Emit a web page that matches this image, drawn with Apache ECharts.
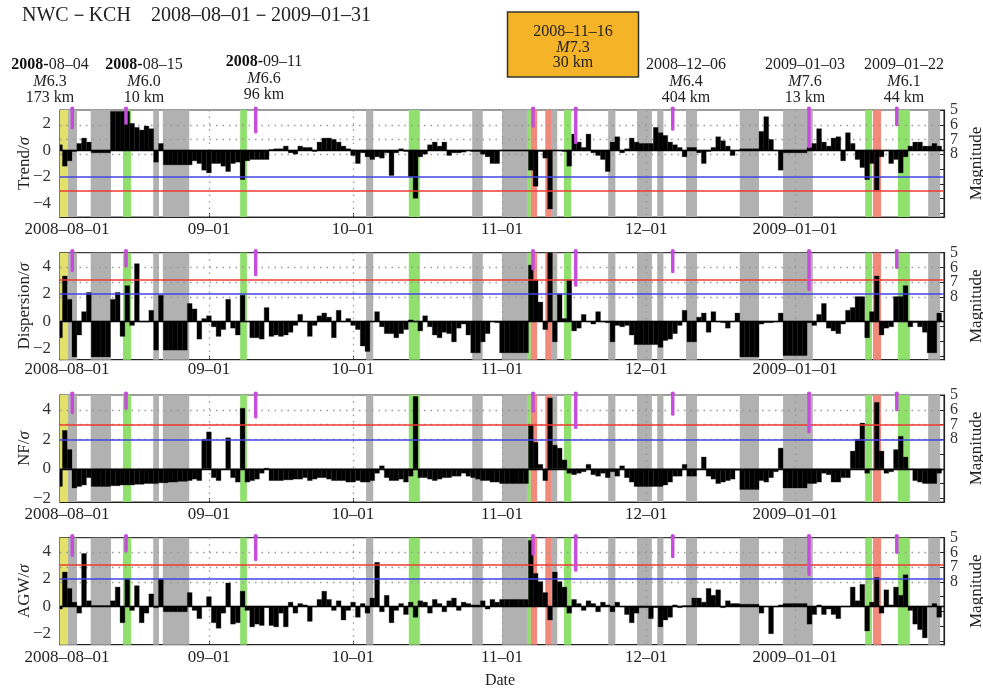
<!DOCTYPE html>
<html><head><meta charset="utf-8">
<script src="https://cdn.jsdelivr.net/npm/echarts@6/dist/echarts.min.js"></script>
<style>html,body{margin:0;padding:0;background:#fff}#c{width:983px;height:691px}</style>
</head><body><div id="c"></div>
<script>
// ---------------- DATA ----------------
const monthTickDays = [0, 31, 61, 92, 122, 153];
const monthTickLabels = ['2008–08–01', '09–01', '10–01', '11–01', '12–01', '2009–01–01'];
const panelNames = ['Trend', 'Dispersion', 'NF', 'AGW'];
const leftTicks = [[-4, -2, 0, 2], [-2, 0, 2, 4], [-2, 0, 2, 4], [-2, 0, 2, 4]];
const magLabels = [5, 6, 7, 8];
const magTicks = [5, 6, 7, 8, 9, 10, 11, 12];
const redLevel = [-3, 3, 3, 3];
const blueLevel = [-2, 2, 2, 2];

const trend = [0.4,-1.2,-0.8,-0.1,0.5,0.9,0.6,-0.2,-0.2,-0.2,-0.2,2.9,2.9,2.9,2.9,2.0,1.7,1.5,1.8,1.6,
-0.9,0.5,-1.1,-1.1,-1.1,-1.1,-1.1,-1.1,-0.8,-1.0,-1.5,-1.7,-1.0,-1.0,-1.2,-1.6,-1.0,-0.9,-2.2,-0.8,
-0.7,-0.7,-0.7,-0.7,0.05,0.1,0.1,0.3,-0.2,-0.3,0.3,0.2,0.2,-0.1,0.6,0.9,0.9,0.8,0.6,0.3,
0.1,-0.4,-1.0,-0.2,-0.5,-0.7,-0.5,-0.6,-0.2,-1.9,-0.2,0.1,-0.1,-2.0,-3.6,-0.5,-0.3,0.4,0.6,0.3,
0.6,-0.4,-0.2,-0.2,-0.15,0.0,-0.1,-0.1,-0.3,-0.5,-1.0,-1.0,-0.05,-0.05,-0.05,-0.05,-0.05,-0.05,-1.5,-2.7,
-0.1,-0.6,-4.4,0.0,0.0,-0.1,-1.2,1.2,0.6,0.2,1.2,-0.2,-0.4,-0.7,-1.6,0.6,1.0,-0.2,0.1,0.9,
0.6,0.5,0.5,0.5,1.7,1.3,1.1,0.6,0.4,0.2,-0.5,0.2,0.2,-0.2,-1.0,-0.1,0.2,1.0,0.7,0.3,
-0.4,0.0,0.1,0.1,0.1,0.1,1.4,2.5,0.8,0.0,-1.5,-0.2,-0.2,-0.2,-0.2,-0.2,0.2,0.5,1.6,0.6,
0.3,0.9,1.0,-0.8,1.3,0.5,-0.7,-1.3,-2.2,-1.0,-3.0,-0.5,0.0,-1.0,-0.7,-1.7,-0.5,0.3,0.6,0.6,
0.3,0.3,0.5,0.3];
const dispersion = [-1.2,3.3,1.6,-2.6,-1.0,0.7,2.1,-2.6,-2.6,-2.6,-2.6,1.6,2.1,-1.1,2.6,-0.3,4.2,0.0,0.0,0.8,
-2.1,1.9,-2.1,-2.1,-2.1,-2.1,-2.1,1.3,0.9,-1.3,0.2,0.4,-0.4,-1.1,-0.6,1.6,-0.5,-1.0,1.9,0.0,
-1.2,-1.2,-1.3,1.0,-1.1,-1.0,-1.1,-1.0,-0.8,-0.3,0.5,0.0,-1.1,-0.3,0.4,0.6,0.3,-1.2,0.8,0.0,
0.2,-0.3,-0.6,-1.8,-2.2,0.0,0.7,-0.4,-0.9,-0.9,-1.2,-0.9,-0.6,0.1,0.0,-0.7,0.4,-0.4,-1.0,-1.2,
-0.8,-0.9,-1.5,-0.5,-0.2,-1.0,-2.3,-2.3,-1.5,-0.9,0.0,-0.1,-2.3,-2.3,-2.3,-2.3,-2.3,-2.3,4.1,3.0,
1.4,-0.6,5.0,-1.5,2.0,0.2,3.0,-0.7,-0.5,0.5,0.0,-0.2,0.7,0.0,-0.1,-1.5,-0.3,-0.4,-0.3,-1.0,
-1.7,-1.7,-1.7,-1.7,-1.7,-1.9,-1.4,-1.3,-0.9,-0.3,0.8,-1.5,-1.5,0.3,0.6,-0.8,0.7,0.0,-0.1,-0.5,
0.0,0.6,-2.6,-2.6,-2.6,-2.6,-0.2,-0.1,-0.1,0.0,0.6,-2.5,-2.5,-2.5,-2.5,-2.5,-0.1,-0.3,0.5,1.3,
-0.5,-0.7,-0.9,-0.2,0.8,1.0,1.8,1.8,-1.2,0.7,3.3,-1.0,-0.5,-0.4,1.8,1.8,2.6,-0.4,-0.1,-0.4,
-0.8,-2.3,-2.3,0.6];
const nf = [-1.2,2.6,1.3,-1.3,-1.2,-1.1,-0.6,-1.2,-1.2,-1.2,-1.2,-1.15,-1.15,-1.1,-1.1,-1.1,-1.05,-1.05,-1.0,-1.0,
-1.0,-0.95,-0.95,-0.9,-0.9,-0.85,-0.85,-0.8,-0.7,-0.8,2.0,2.5,-0.6,-0.8,0.0,2.1,-0.6,-0.9,4.1,-0.9,
-0.8,-0.7,-0.3,0.05,-0.8,-0.8,-0.8,-0.75,-0.75,-0.7,-0.7,-0.6,-0.8,-0.7,-0.6,-0.6,-0.7,-0.8,-0.8,-0.8,
-0.9,-0.9,-0.8,-0.9,-0.9,-0.8,-0.3,0.2,-0.6,-0.8,-0.8,-0.7,-0.9,-0.5,4.9,-0.6,-0.6,-0.7,-0.8,-0.7,
-0.6,-0.6,-0.5,-0.5,-0.3,-0.5,-0.6,-0.7,-0.8,-0.8,-0.9,-0.9,-1.0,-1.0,-1.0,-1.0,-1.0,-1.0,3.0,1.8,
0.3,-0.8,4.8,1.6,1.4,0.6,-0.3,-0.4,-0.3,-0.2,0.3,-0.4,-0.5,-0.3,-0.6,-0.2,-0.5,0.2,-0.6,-0.9,
-1.2,-1.2,-1.2,-1.2,-1.2,-1.2,-1.1,-0.9,-0.5,-0.5,0.3,-0.5,-0.5,0.0,0.8,-0.5,-0.7,-1.0,-0.9,-0.8,
-0.7,-0.1,-1.4,-1.4,-1.4,-1.4,-0.8,-0.9,-0.6,-0.2,1.4,-1.3,-1.3,-1.3,-1.3,-1.3,-1.0,-1.0,-0.9,-0.3,
-0.4,-0.9,-0.9,-0.6,-0.6,1.2,2.0,3.1,-0.3,0.0,4.5,1.2,-0.3,-0.2,1.3,2.2,0.8,0.0,-0.8,-0.9,
-1.0,-1.0,-1.0,-0.3];
const agw = [-0.2,2.5,1.3,0.3,-0.5,3.85,0.4,0.05,0.05,0.05,0.05,0.4,1.4,-1.2,2.0,-0.3,1.5,-1.2,-0.5,0.9,
-0.1,2.0,-0.4,-0.4,-0.4,-0.4,-0.4,1.0,-0.3,-0.9,0.0,0.7,-1.2,-1.6,-0.5,1.7,-1.3,-1.2,1.1,-0.3,
-1.5,-1.3,-1.4,-0.1,-1.4,-1.5,-0.5,-1.5,0.3,-0.5,0.2,0.1,-1.1,0.0,0.5,1.1,0.5,-0.3,0.4,-1.0,
-0.3,0.3,-0.8,0.2,-0.5,0.6,3.2,-0.4,0.8,-1.2,-0.3,0.2,-0.6,0.3,-0.8,0.4,0.3,-0.5,0.5,0.2,
-0.4,0.4,0.6,-0.3,0.3,0.2,0.1,0.1,0.4,-0.2,0.5,0.3,0.5,0.5,0.5,0.5,0.5,0.5,4.8,2.4,
1.8,1.0,-1.0,2.5,1.8,1.4,-0.5,0.5,0.2,-0.3,0.4,0.2,-0.4,0.3,0.1,-0.4,0.3,0.0,-0.6,-1.2,
-0.5,-0.1,-0.1,-0.9,-0.1,-1.5,-1.0,-0.8,0.1,-0.1,0.05,0.05,0.6,0.6,0.3,1.3,0.8,1.2,-0.1,0.4,
0.2,0.2,0.15,0.15,0.15,0.15,-0.5,0.0,-2.0,0.0,0.1,0.2,0.2,0.2,0.2,0.2,-1.3,-0.6,0.1,-0.6,
-0.2,-0.6,-0.9,0.0,0.0,1.4,0.4,1.6,-1.8,0.3,2.1,-0.5,1.2,0.1,1.4,0.8,2.3,-0.3,-1.3,-1.7,
-2.3,0.0,0.2,-0.8];
const panelValues = [trend, dispersion, nf, agw];

// shaded bands [startDay, endDay]
const bandsGray = [[1.67,3.54],[6.39,10.62],[19.4,20.6],[21.4,26.9],[63.7,65.2],[85.8,88.0],[92.0,97.2],
  [102.2,103.5],[114.1,115.6],[120.1,123.2],[124.3,125.6],[130.3,132.6],[141.5,145.5],[150.5,156.7],[180.7,183.2]];
const bandsGreen = [[13.1,14.8],[37.5,38.9],[72.6,74.9],[97.2,98.0],[104.9,106.4],[167.6,169.0],[174.4,176.9]];
const bandsRed = [[98.0,99.3],[101.0,102.2],[169.2,170.9]];
const bandsYellow = [[0,1.67]];

const eqDay = [2.56, 13.74, 40.74, 98.46, 107.35, 127.54, 155.91, 174.17];
const eqMag = [6.3, 6.0, 6.6, 6.2, 7.3, 6.4, 7.6, 6.1];
const annDate = ['2008-08-04', '2008-08-15', '2008-09-11', '2008-12-06', '2009-01-03', '2009-01-22'];
const annMag = ['6.3', '6.0', '6.6', '6.4', '7.6', '6.1'];
const annDist = ['173 km', '10 km', '96 km', '404 km', '13 km', '44 km'];
const mainDate = '2008-11-16', mainMag = '7.3', mainDist = '30 km';

// ---------------- LAYOUT ----------------
const FONT = '"Liberation Serif","Times New Roman","Noto Serif",serif';
const gridTops = [110, 252.7, 395, 537.7];
const gridH = 107;
const yRange = [[-5, 3], [-2.8, 5], [-2.25, 5], [-2.8, 5]];
const magRange = [5, 12.25];
const X_MAX = 184;
const annX = [50, 144, 264, 686, 805, 904];
const annY = [65, 65, 62, 65, 65, 65];
const COLORS = {gray: '#b1b1b1', green: '#8fe06c', red: '#f2897b', yellow: '#e3e16c', mag: '#c64ddb'};

const dash = s => s.replace(/-/g, '–');

const grids = [], xAxes = [], yAxes = [], series = [];
const bandData = [];
bandsGray.forEach(b => bandData.push([b[0], b[1], 0]));
bandsYellow.forEach(b => bandData.push([b[0], b[1], 3]));
bandsGreen.forEach(b => bandData.push([b[0], b[1], 1]));
bandsRed.forEach(b => bandData.push([b[0], b[1], 2]));
const bandColor = [COLORS.gray, COLORS.green, COLORS.red, COLORS.yellow];

function clipTo(rect, cs) {
  return echarts.graphic.clipRectByRect(rect, {x: cs.x, y: cs.y, width: cs.width, height: cs.height});
}
function bandRender(params, api) {
  const cs = params.coordSys;
  const x0 = api.coord([api.value(0), 5])[0];
  const x1 = api.coord([api.value(1), 5])[0];
  const r = clipTo({x: x0, y: cs.y, width: x1 - x0, height: cs.height}, cs);
  return r && {type: 'rect', shape: r, style: {fill: bandColor[api.value(2)]}};
}
function barRender(params, api) {
  const i = api.value(0), v = api.value(1);
  const a = api.coord([i - 0.5, 0]);
  const b = api.coord([i + 0.5, v]);
  const r = clipTo({x: a[0], y: Math.min(a[1], b[1]), width: b[0] - a[0], height: Math.max(Math.abs(b[1] - a[1]), 0.6)}, params.coordSys);
  return r && {type: 'rect', shape: r, style: {fill: '#000', stroke: '#111', lineWidth: 0.3}};
}
function eqRender(params, api) {
  const cs = params.coordSys;
  const p = api.coord([api.value(0), api.value(1)]);
  const top = cs.y - 2.5;
  return {type: 'group', children: [
    {type: 'rect', shape: {x: p[0] - 1.7, y: top, width: 3.4, height: p[1] - top, r: 1.5}, style: {fill: COLORS.mag}},
    {type: 'circle', shape: {cx: p[0], cy: top + 1, r: 2.1}, style: {fill: COLORS.mag}}
  ]};
}
function magLabelRender(params, api) {
  const p = api.coord([api.value(0), api.value(1)]);
  return {type: 'text', x: p[0] + 6, y: p[1], style: {text: String(api.value(1)), align: 'left', verticalAlign: 'middle',
    font: '16px ' + FONT, fill: '#333'}};
}

for (let p = 0; p < 4; p++) {
  grids.push({left: 60, right: 39, top: gridTops[p], height: gridH, show: true, outerBoundsMode: 'none', containLabel: false,
    borderColor: '#3a3a3a', borderWidth: 1.2, backgroundColor: 'transparent'});
  xAxes.push({type: 'value', gridIndex: p, min: 0, max: X_MAX,
    axisLine: {show: true, onZero: false, lineStyle: {color: '#222', width: 1.2}},
    axisTick: {show: true, inside: true, length: 4, customValues: monthTickDays, lineStyle: {color: '#222'}},
    axisLabel: {customValues: monthTickDays, fontFamily: FONT, fontSize: 17, color: '#222', margin: p === 1 ? 1 : 4,
      hideOverlap: false, showMinLabel: true, showMaxLabel: true,
      rich: {first: {fontFamily: FONT, fontSize: 17, color: '#222', padding: [0, 0, 0, 14]}},
      formatter: v => { const k = monthTickDays.indexOf(v); return k < 0 ? '' : (k === 0 ? '{first|' + monthTickLabels[k] + '}' : monthTickLabels[k]); }},
    splitLine: {show: false}});
  yAxes.push({type: 'value', gridIndex: p, position: 'left', min: yRange[p][0], max: yRange[p][1],
    name: panelNames[p] + '/{i|σ}', nameLocation: 'middle', nameRotate: 90, nameGap: 27, nameMoveOverlap: false,
    nameTextStyle: {fontFamily: FONT, fontSize: 17, color: '#222', rich: {i: {fontFamily: FONT, fontSize: 17, fontStyle: 'italic', color: '#222'}}},
    axisLine: {show: true, onZero: false, lineStyle: {color: '#222', width: 1.2}},
    axisTick: {show: true, inside: true, length: 3, customValues: leftTicks[p], lineStyle: {color: '#222'}},
    axisLabel: {customValues: leftTicks[p], fontFamily: FONT, fontSize: 17, color: '#333', margin: 9,
      hideOverlap: false, showMinLabel: true, showMaxLabel: true,
      formatter: v => v < 0 ? '−' + Math.abs(v) : String(v)},
    splitLine: {show: false}});
  yAxes.push({type: 'value', gridIndex: p, position: 'right', min: magRange[0], max: magRange[1], inverse: true,
    name: 'Magnitude', nameLocation: 'middle', nameRotate: 90, nameGap: 24, nameMoveOverlap: false,
    nameTextStyle: {fontFamily: FONT, fontSize: 17, color: '#222'},
    axisLine: {show: true, onZero: false, lineStyle: {color: '#222', width: 1.2}},
    axisTick: {show: true, inside: true, length: 5, customValues: magTicks, lineStyle: {color: '#222'}},
    axisLabel: {show: false},
    splitLine: {show: false}});

  // bands (on magnitude axis) + dotted grid lines
  series.push({type: 'custom', xAxisIndex: p, yAxisIndex: 2 * p + 1, z: 1, silent: true,
    data: bandData, renderItem: bandRender, encode: {x: [0, 1], y: -1},
    markLine: {silent: true, symbol: 'none', z: 1.5, label: {show: false},
      lineStyle: {color: '#9a9a9a', type: [1.5, 5], width: 1.3},
      data: [{yAxis: 6}, {yAxis: 7}, {yAxis: 8}].concat(monthTickDays.slice(1).map(d => ({xAxis: d})))}});
  // daily bars
  series.push({type: 'custom', xAxisIndex: p, yAxisIndex: 2 * p, z: 2, silent: true,
    data: panelValues[p].map((v, i) => [i, v]), renderItem: barRender, encode: {x: 0, y: 1},
    markLine: {silent: true, symbol: 'none', label: {show: false}, z: 5,
      data: [
        {yAxis: redLevel[p], lineStyle: {color: '#ee3b32', width: 1.5, type: 'solid'}},
        {yAxis: blueLevel[p], lineStyle: {color: '#4545e2', width: 1.5, type: 'solid'}},
        {yAxis: 0, lineStyle: {color: '#000', width: 1.4, type: 'solid'}}
      ]}});
  // earthquakes
  series.push({type: 'custom', xAxisIndex: p, yAxisIndex: 2 * p + 1, z: 6, silent: true, clip: false,
    data: eqDay.map((d, k) => [d, eqMag[k]]), renderItem: eqRender, encode: {x: 0, y: 1}});
  // magnitude tick labels (right axis)
  series.push({type: 'custom', xAxisIndex: p, yAxisIndex: 2 * p + 1, z: 6, silent: true, clip: false,
    data: magLabels.map(m => [X_MAX, m]), renderItem: magLabelRender, encode: {x: 0, y: 1}});
}

// annotation texts
const graphics = [];
graphics.push({type: 'text', left: 22, top: 6, style: {text: 'NWC－KCH　' + dash('2008-08-01') + '－' + dash('2009-01-31'),
  font: '20px ' + FONT, fill: '#222'}});
const boldYear = [true, true, true, false, false, false];
annDate.forEach((d, k) => {
  const txt = boldYear[k] ? '{b|2008-}' + dash(d.slice(5)) : dash(d);
  graphics.push({type: 'text', x: annX[k], y: annY[k], style: {text: txt, align: 'center', verticalAlign: 'middle',
    font: '16px ' + FONT, fill: '#222', rich: {b: {font: 'bold 16px ' + FONT, fill: '#111'}}}});
  graphics.push({type: 'text', x: annX[k], y: annY[k] + 16.5, style: {text: '{i|M}' + annMag[k], align: 'center', verticalAlign: 'middle',
    font: '16px ' + FONT, fill: '#222', rich: {i: {font: 'italic 16px ' + FONT, fill: '#222'}}}});
  graphics.push({type: 'text', x: annX[k], y: annY[k] + 33, style: {text: annDist[k], align: 'center', verticalAlign: 'middle',
    font: '16px ' + FONT, fill: '#222'}});
});
graphics.push({type: 'rect', shape: {x: 507.5, y: 12, width: 131, height: 65}, style: {fill: '#f5b427', stroke: '#333', lineWidth: 1.5}});
graphics.push({type: 'text', x: 573, y: 32, style: {text: dash(mainDate), align: 'center', verticalAlign: 'middle', font: '16px ' + FONT, fill: '#222'}});
graphics.push({type: 'text', x: 573, y: 47.5, style: {text: '{i|M}' + mainMag, align: 'center', verticalAlign: 'middle', font: '16px ' + FONT, fill: '#222',
  rich: {i: {font: 'italic 16px ' + FONT, fill: '#222'}}}});
graphics.push({type: 'text', x: 573, y: 62.5, style: {text: mainDist, align: 'center', verticalAlign: 'middle', font: '16px ' + FONT, fill: '#222'}});
graphics.push({type: 'text', x: 500, y: 681, style: {text: 'Date', align: 'center', verticalAlign: 'middle', font: '16px ' + FONT, fill: '#222'}});

const chart = echarts.init(document.getElementById('c'), null, {renderer: 'canvas'});
chart.setOption({
  animation: false,
  backgroundColor: '#fff',
  grid: grids, xAxis: xAxes, yAxis: yAxes, series: series, graphic: graphics
});
</script>
</body></html>
